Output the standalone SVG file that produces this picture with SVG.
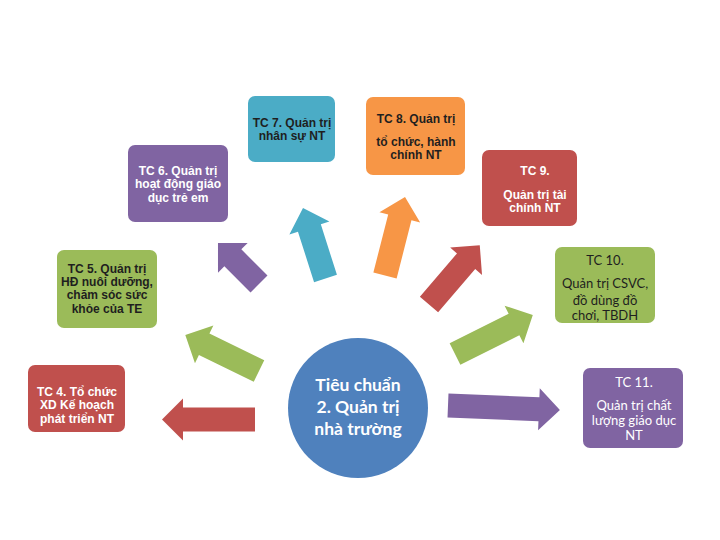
<svg xmlns="http://www.w3.org/2000/svg" width="720" height="540" viewBox="0 0 720 540">
<style>
.t{font-family:"Liberation Sans",Arial,sans-serif;font-size:12px;font-weight:bold;text-anchor:middle}
.c{font-family:Lato,"Liberation Sans",sans-serif;font-size:13px;text-anchor:middle}
.cc{font-family:Lato,"Liberation Sans",sans-serif;font-size:17.5px;font-weight:bold;text-anchor:middle;fill:#fff}
.dk{fill:#1f1f1f}
.wh{fill:#fff}
</style>
<rect width="720" height="540" fill="#fff"/>
<g id="connectors">
<path fill="#8064A2" transform="translate(259,284) rotate(-135)" d="M0,-12H37V-21L58,0L37,21V12H0Z"/>
<path fill="#4BACC6" transform="translate(325.5,278.5) rotate(-107.7)" d="M0,-12H53V-21L74,0L53,21V12H0Z"/>
<path fill="#F79646" transform="translate(385,275.5) rotate(-75.7)" d="M0,-12H60V-21L81,0L60,21V12H0Z"/>
<path fill="#C0504D" transform="translate(429,304.5) rotate(-49.4)" d="M0,-12H57V-21L78,0L57,21V12H0Z"/>
<path fill="#9BBB59" transform="translate(455,354) rotate(-26.6)" d="M0,-12H66V-21L87,0L66,21V12H0Z"/>
<path fill="#8064A2" transform="translate(448,405.5) rotate(2.3)" d="M0,-12H91V-21L112,0L91,21V12H0Z"/>
<path fill="#9BBB59" transform="translate(259,371) rotate(-154)" d="M0,-12H61V-21L82,0L61,21V12H0Z"/>
<path fill="#C0504D" transform="translate(255,419.5) rotate(180)" d="M0,-12H72V-21L93,0L72,21V12H0Z"/>
</g>
<g id="center">
<circle cx="358" cy="408" r="70" fill="#4F81BD"/>
<text class="cc" x="358" y="391">Tiêu chuẩn</text>
<text class="cc" x="358" y="413">2. Quản trị</text>
<text class="cc" x="358" y="435">nhà trường</text>
</g>
<g id="tc7">
<rect x="248" y="96" width="87" height="66" rx="7" fill="#4BACC6"/>
<text class="t dk" x="292" y="127">TC 7. Quản trị</text>
<text class="t dk" x="292" y="140">nhân sự NT</text>
</g>
<g id="tc8">
<rect x="366" y="97" width="99" height="78" rx="7" fill="#F79646"/>
<text class="t dk" x="416" y="123">TC 8. Quản trị</text>
<text class="t dk" x="416" y="146">tổ chức, hành</text>
<text class="t dk" x="416" y="159">chính NT</text>
</g>
<g id="tc6">
<rect x="128" y="145" width="100" height="77" rx="7" fill="#8064A2"/>
<text class="t wh" x="178" y="175">TC 6. Quản trị</text>
<text class="t wh" x="178" y="188">hoạt động giáo</text>
<text class="t wh" x="178" y="202">dục trẻ em</text>
</g>
<g id="tc9">
<rect x="482" y="150" width="95" height="76" rx="7" fill="#C0504D"/>
<text class="t wh" x="535" y="175">TC 9.</text>
<text class="t wh" x="535" y="199">Quản trị tài</text>
<text class="t wh" x="535" y="212">chính NT</text>
</g>
<g id="tc5">
<rect x="57" y="250" width="100" height="78" rx="7" fill="#9BBB59"/>
<text class="t dk" x="107" y="273">TC 5. Quản trị</text>
<text class="t dk" x="107" y="286">HĐ nuôi dưỡng,</text>
<text class="t dk" x="107" y="299">chăm sóc sức</text>
<text class="t dk" x="107" y="313">khỏe của TE</text>
</g>
<g id="tc10">
<rect x="555" y="247" width="100" height="76" rx="7" fill="#9BBB59"/>
<text class="c dk" x="605" y="265">TC 10.</text>
<text class="c dk" x="605" y="288">Quản trị CSVC,</text>
<text class="c dk" x="605" y="305">đồ dùng đồ</text>
<text class="c dk" x="605" y="320">chơi, TBDH</text>
</g>
<g id="tc4">
<rect x="28" y="365" width="97" height="67" rx="7" fill="#C0504D"/>
<text class="t wh" x="77" y="396">TC 4. Tổ chức</text>
<text class="t wh" x="77" y="409">XD Kế hoạch</text>
<text class="t wh" x="77" y="423">phát triển NT</text>
</g>
<g id="tc11">
<rect x="583" y="368" width="100" height="80" rx="7" fill="#8064A2"/>
<text class="c wh" x="634" y="387">TC 11.</text>
<text class="c wh" x="634" y="410">Quản trị chất</text>
<text class="c wh" x="634" y="425">lượng giáo dục</text>
<text class="c wh" x="634" y="440">NT</text>
</g>
</svg>
